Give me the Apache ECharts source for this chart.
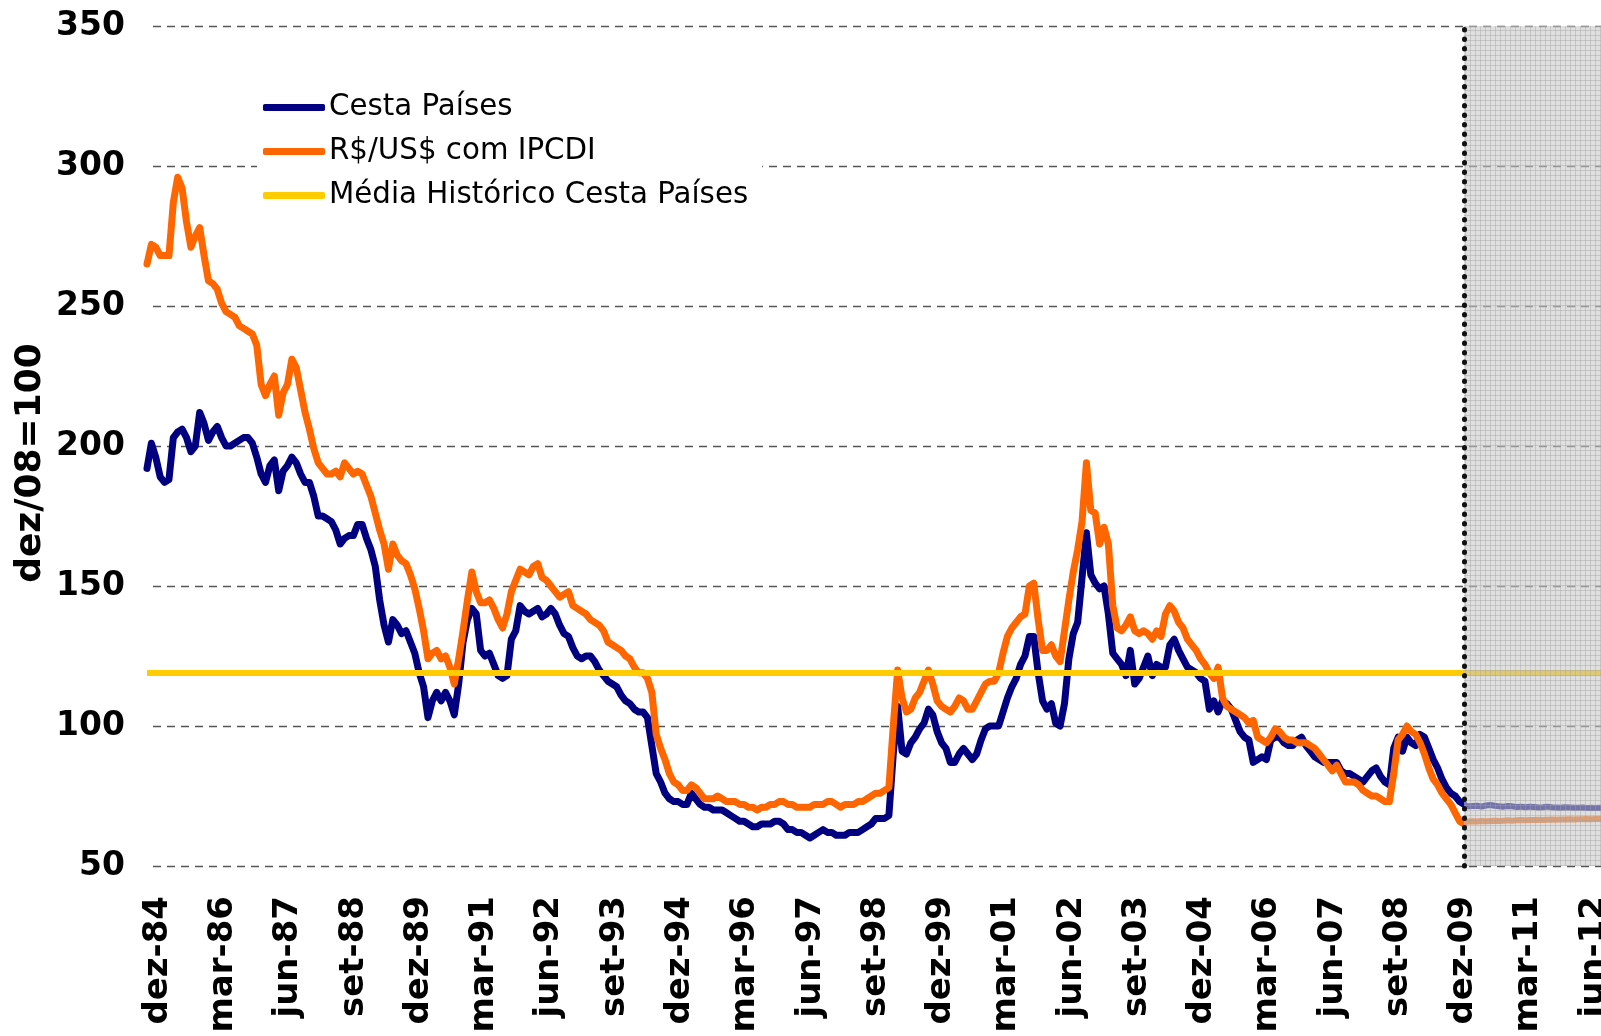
<!DOCTYPE html>
<html>
<head>
<meta charset="utf-8">
<script src="https://cdn.jsdelivr.net/npm/echarts@6/dist/echarts.min.js"></script>
<style>
html,body{margin:0;padding:0;background:#fff;overflow:hidden;}
#chart{width:1700px;height:1036px;}
</style>
</head>
<body>
<div id="chart"></div>
<script>
// ---- DATA ----
const mesesNomes = ['jan','fev','mar','abr','mai','jun','jul','ago','set','out','nov','dez'];
const inicioAno = 1984, inicioMes = 11, totalMeses = 337; // dez-84 .. dez-12
const categorias = [];
for (let k = 0; k < totalMeses; k++) {
  const m = (inicioMes + k) % 12;
  const a = inicioAno + Math.floor((inicioMes + k) / 12);
  categorias.push(mesesNomes[m] + '-' + String(a).slice(2));
}

const cestaPaises = [
192,201,196,189,187,188,203,205,206,203,
198,200,212,208,202,205,207,203,200,200,
201,202,203,203,201,196,190,187,193,195,
184,191,193,196,194,190,187,187,182,175,
175,174,173,170,165,167,168,168,172,172,
167,163,157,145,136,130,138,136,133,134,
130,126,119,114,103,109,112,109,112,109,
104,115,130,138,142,140,127,125,126,122,
118,117,118,131,134,143,141,140,141,142,
139,140,142,140,136,133,132,128,125,124,
125,125,123,120,118,116,115,114,111,109,
108,106,105,105,103,93,83,80,76,74,
73,73,72,72,76,74,72,71,71,70,
70,70,69,68,67,66,66,65,64,64,
65,65,65,66,66,65,63,63,62,62,
61,60,61,62,63,62,62,61,61,61,
62,62,62,63,64,65,67,67,67,68,
90,107,91,90,94,96,99,101,106,104,
98,94,92,87,87,90,92,90,88,90,
95,99,100,100,100,105,110,114,117,122,
125,132,132,119,109,106,108,101,100,108,
124,133,137,153,169,154,151,149,150,140,
126,124,122,118,127,115,117,121,125,118,
122,121,121,129,131,127,124,121,120,119,
117,116,106,109,105,109,108,106,102,98,
96,95,87,88,89,88,95,96,96,94,
93,93,95,96,93,91,89,88,87,87,
87,87,84,83,83,82,81,80,82,84,
85,82,80,79,92,96,91,96,94,93,
97,96,92,88,85,81,78,76,75,73,
72];

const cambioIPCDI = [
265,272,271,268,268,268,287,296,292,280,
271,275,278,268,259,258,256,251,248,247,
246,243,242,241,240,236,222,218,222,225,
211,219,222,231,228,220,212,206,199,194,
192,190,190,191,189,194,192,190,191,190,
186,182,176,170,165,156,165,161,159,158,
154,149,142,134,124,126,127,124,125,121,
115,124,134,145,155,148,144,144,145,142,
138,135,140,148,152,156,155,154,157,158,
153,152,150,148,146,147,148,143,142,141,
140,138,137,136,134,130,129,128,127,125,
124,121,119,119,117,112,97,92,88,83,
80,79,77,77,79,78,76,74,74,74,
75,74,73,73,73,72,72,71,71,70,
71,71,72,72,73,73,72,72,71,71,
71,71,72,72,72,73,73,72,71,72,
72,72,73,73,74,75,76,76,77,78,
100,120,110,105,106,110,112,116,120,115,
109,107,106,105,107,110,109,106,106,109,
112,115,116,116,119,126,132,135,137,139,
140,150,151,138,127,127,129,125,123,134,
145,155,163,173,194,177,176,165,171,165,
143,135,134,136,139,134,133,134,133,131,
134,132,140,143,141,137,135,131,129,127,
124,122,119,117,121,110,107,106,105,104,
103,101,102,96,95,94,96,99,98,96,
95,95,94,94,94,93,92,90,88,86,
84,86,83,80,80,80,79,77,76,75,
75,74,73,73,83,95,97,100,98,97,
94,90,85,81,79,76,74,72,69,66,
65];

// projection (shaded area), from dez-09
const previsaoCesta = [71.5,71.3,71.4,71.5,71.2,71.6,71.8,71.5,71.3,71.2,71.4,71.3,71.1,71.2,71.0,71.2,71.1,70.9,71.0,71.2,71.0,70.9,70.8,71.0,70.9,70.8,70.8,70.9,70.7,70.8,70.7,70.8,70.7,70.6,70.7,70.6,70.6];
const previsaoCambio = [65.8,65.9,66.0,65.9,66.1,66.0,66.1,66.2,66.1,66.2,66.3,66.2,66.3,66.4,66.3,66.4,66.4,66.5,66.4,66.5,66.6,66.5,66.6,66.6,66.7,66.6,66.7,66.7,66.8,66.7,66.8,66.8,66.9,66.8,66.9,66.9,67.0];

const mediaHistorica = 119;
const inicioPrevisao = 300; // index of dez-09
const yTicks = {min: 50, max: 350, interval: 50};
const nomes = ['Cesta Países', 'R$/US$ com IPCDI', 'Média Histórico Cesta Países'];

// ---- pattern for shaded area ----
const pat = document.createElement('canvas');
pat.width = 5; pat.height = 5;
const pc = pat.getContext('2d');
pc.fillStyle = 'rgba(200,200,200,0.58)';
pc.fillRect(0, 0, 5, 5);
pc.fillStyle = 'rgba(160,160,160,0.4)';
pc.fillRect(0, 0, 1, 5);
pc.fillRect(0, 0, 5, 1);

const prevCestaFull = new Array(inicioPrevisao).fill(null).concat(previsaoCesta);
const prevCambioFull = new Array(inicioPrevisao).fill(null).concat(previsaoCambio);

const FONT = 'DejaVu Sans';
const chart = echarts.init(document.getElementById('chart'));
chart.setOption({
  animation: false,
  backgroundColor: '#fff',
  grid: [
    {left: 147, right: 78, top: 26, bottom: 170, containLabel: false, outerBoundsMode: 'none'},
    {left: 158, right: 80, top: 26, bottom: 170, containLabel: false, outerBoundsMode: 'none'}
  ],
  legend: {
    data: nomes,
    orient: 'vertical',
    left: 257, top: 73,
    padding: [20, 14, 20, 6],
    backgroundColor: '#fff',
    icon: 'roundRect',
    itemWidth: 62, itemHeight: 7,
    itemGap: 15,
    textStyle: {fontFamily: FONT, fontSize: 29.3, color: '#000', padding: [0, 0, 0, -1]},
    selectedMode: false
  },
  xAxis: [{
    type: 'category',
    gridIndex: 0,
    data: categorias,
    boundaryGap: false,
    axisLine: {show: false},
    axisTick: {show: false},
    splitLine: {show: false},
    axisLabel: {show: false}
  }, {
    type: 'category',
    gridIndex: 1,
    data: categorias,
    boundaryGap: false,
    axisLine: {show: false},
    axisTick: {show: false},
    splitLine: {show: false},
    axisLabel: {
      interval: 14, rotate: 90, margin: 30,
      fontFamily: FONT, fontWeight: 'bold', fontSize: 34, color: '#000'
    }
  }],
  yAxis: [{
    type: 'value',
    gridIndex: 0,
    min: yTicks.min, max: yTicks.max, interval: yTicks.interval,
    axisLine: {show: false},
    axisTick: {show: false},
    axisLabel: {margin: 22, fontFamily: FONT, fontWeight: 'bold', fontSize: 33, color: '#000'},
    splitLine: {show: true, lineStyle: {color: '#555', width: 1.4, type: [8, 6], dashOffset: 8}}
  }, {
    type: 'value',
    gridIndex: 1,
    min: yTicks.min, max: yTicks.max, interval: yTicks.interval,
    show: false
  }],
  graphic: [{
    type: 'text', x: 31, y: 463, rotation: Math.PI / 2,
    style: {text: 'dez/08=100', font: 'bold 36px "DejaVu Sans"', fill: '#000', textAlign: 'center', textVerticalAlign: 'middle'}
  }],
  series: [
    {
      name: nomes[0], type: 'line', data: cestaPaises, showSymbol: false, symbol: 'none',
      color: '#000080', lineStyle: {width: 7, color: '#000080', join: 'round', cap: 'round'}, z: 3
    },
    {
      name: nomes[1], type: 'line', data: cambioIPCDI, showSymbol: false, symbol: 'none',
      color: '#FF6600', lineStyle: {width: 7, color: '#FF6600', join: 'round', cap: 'round'}, z: 4
    },
    {
      name: nomes[2], type: 'line', data: [], showSymbol: false, symbol: 'none',
      color: '#FFCC00', lineStyle: {width: 6, color: '#FFCC00'}, z: 5,
      markLine: {
        silent: true, symbol: 'none', label: {show: false}, z: 5,
        lineStyle: {color: '#FFCC00', width: 6, type: 'solid'},
        data: [{yAxis: mediaHistorica}]
      }
    },
    {
      name: 'prev1', type: 'line', data: prevCestaFull, showSymbol: false, symbol: 'none',
      lineStyle: {width: 6, color: '#000080'}, z: 3
    },
    {
      name: 'prev2', type: 'line', data: prevCambioFull, showSymbol: false, symbol: 'none',
      lineStyle: {width: 6, color: '#FF6600'}, z: 3
    },
    {
      name: 'sombra', type: 'line', data: [], z: 10,
      markArea: {
        silent: true, z: 20,
        itemStyle: {color: {image: pat, repeat: 'repeat'}},
        data: [[{xAxis: categorias[inicioPrevisao]}, {xAxis: categorias[totalMeses - 1]}]]
      },
      markLine: {
        silent: true, symbol: 'none', label: {show: false}, z: 30,
        lineStyle: {color: '#111', width: 5, type: [0.5, 9], cap: 'round'},
        data: [{xAxis: categorias[inicioPrevisao]}]
      }
    }
  ]
});
</script>
</body>
</html>
